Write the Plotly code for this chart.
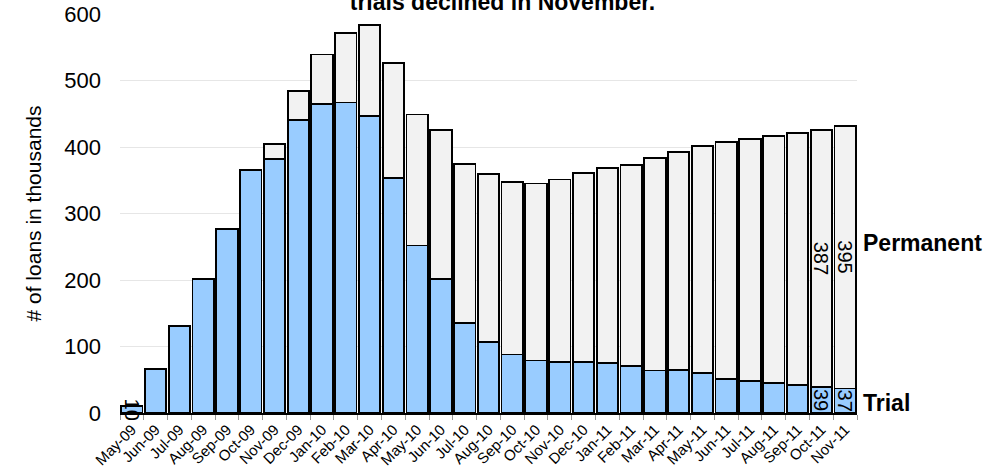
import plotly.graph_objects as go

# months shown on the x axis
months = ["May-09", "Jun-09", "Jul-09", "Aug-09", "Sep-09", "Oct-09", "Nov-09", "Dec-09",
          "Jan-10", "Feb-10", "Mar-10", "Apr-10", "May-10", "Jun-10", "Jul-10", "Aug-10",
          "Sep-10", "Oct-10", "Nov-10", "Dec-10", "Jan-11", "Feb-11", "Mar-11", "Apr-11",
          "May-11", "Jun-11", "Jul-11", "Aug-11", "Sep-11", "Oct-11", "Nov-11"]

# loans in thousands
trial = [10, 66, 131, 202, 277, 365, 382, 441, 465, 467, 447, 353, 252, 202, 135, 107,
         88, 79, 77, 77, 75, 71, 64, 65, 60, 51, 48, 45, 42, 39, 37]
permanent = [0, 0, 0, 0, 0, 0, 23, 43, 74, 105, 136, 173, 197, 224, 240, 252,
             259, 266, 274, 284, 293, 302, 320, 328, 342, 356, 364, 372, 379, 387, 395]

# which bars carry a value label
trial_labelled = ["May-09", "Oct-11", "Nov-11"]
permanent_labelled = ["Oct-11", "Nov-11"]

FONT = "Arial, Liberation Sans, sans-serif"


def labels(values, keep):
    '''Description: text for the labelled bars, empty elsewhere'''
    return [str(v) if m in keep else "" for m, v in zip(months, values)]


fig = go.Figure()
fig.add_trace(
    go.Bar(
        x=months,
        y=trial,
        name="Trial",
        marker=dict(color="#99CCFF", line=dict(color="black", width=1.8)),
        text=labels(trial, trial_labelled),
        textposition="inside",
        insidetextanchor="middle",
        textangle=90,
        constraintext="none",
        textfont=dict(family=FONT, size=20, color="black"),
        cliponaxis=False,
    )
)
fig.add_trace(
    go.Bar(
        x=months,
        y=permanent,
        name="Permanent",
        marker=dict(color="#F2F2F2", line=dict(color="black", width=1.8)),
        text=labels(permanent, permanent_labelled),
        textposition="inside",
        insidetextanchor="middle",
        textangle=90,
        constraintext="none",
        textfont=dict(family=FONT, size=20, color="black"),
    )
)

# series names at the right of the last bar
fig.add_annotation(x=1, xref="paper", y=15, yref="y", xanchor="left", xshift=4,
                   text="<b>Trial</b>", showarrow=False,
                   font=dict(family=FONT, size=23, color="black"))
fig.add_annotation(x=1, xref="paper", y=256, yref="y", xanchor="left", xshift=4,
                   text="<b>Permanent</b>", showarrow=False,
                   font=dict(family=FONT, size=23, color="black"))

fig.update_layout(
    barmode="stack",
    bargap=0.1,
    width=1005,
    height=469,
    margin=dict(l=120, r=148, t=14, b=56),
    paper_bgcolor="white",
    plot_bgcolor="white",
    showlegend=False,
    font=dict(family=FONT, color="black"),
    title=dict(
        text="<b>trials declined in November.</b>",
        x=0.5, xref="container", xanchor="center",
        y=0.996, yref="container", yanchor="middle",
        font=dict(family=FONT, size=23, color="black"),
    ),
    xaxis=dict(
        type="category",
        tickangle=-45,
        tickfont=dict(family=FONT, size=15, color="black"),
        showline=True,
        linecolor="black",
        linewidth=2,
        ticks="outside",
        tickson="boundaries",
        ticklen=5,
        tickcolor="#999999",
        showgrid=False,
        automargin=False,
    ),
    yaxis=dict(
        range=[0, 600],
        dtick=100,
        tickfont=dict(family=FONT, size=22, color="black"),
        ticklabelstandoff=18,
        showgrid=True,
        gridcolor="#E6E6E6",
        gridwidth=1,
        zeroline=False,
        showline=False,
        title=dict(text="# of loans in thousands", standoff=16,
                   font=dict(family=FONT, size=21, color="black")),
        automargin=False,
    ),
)

# the page has no body margin, so the figure sits at the top-left corner
fig.write_html("out.html", config={"displayModeBar": False},
               post_script="document.body.style.margin = '0';")
